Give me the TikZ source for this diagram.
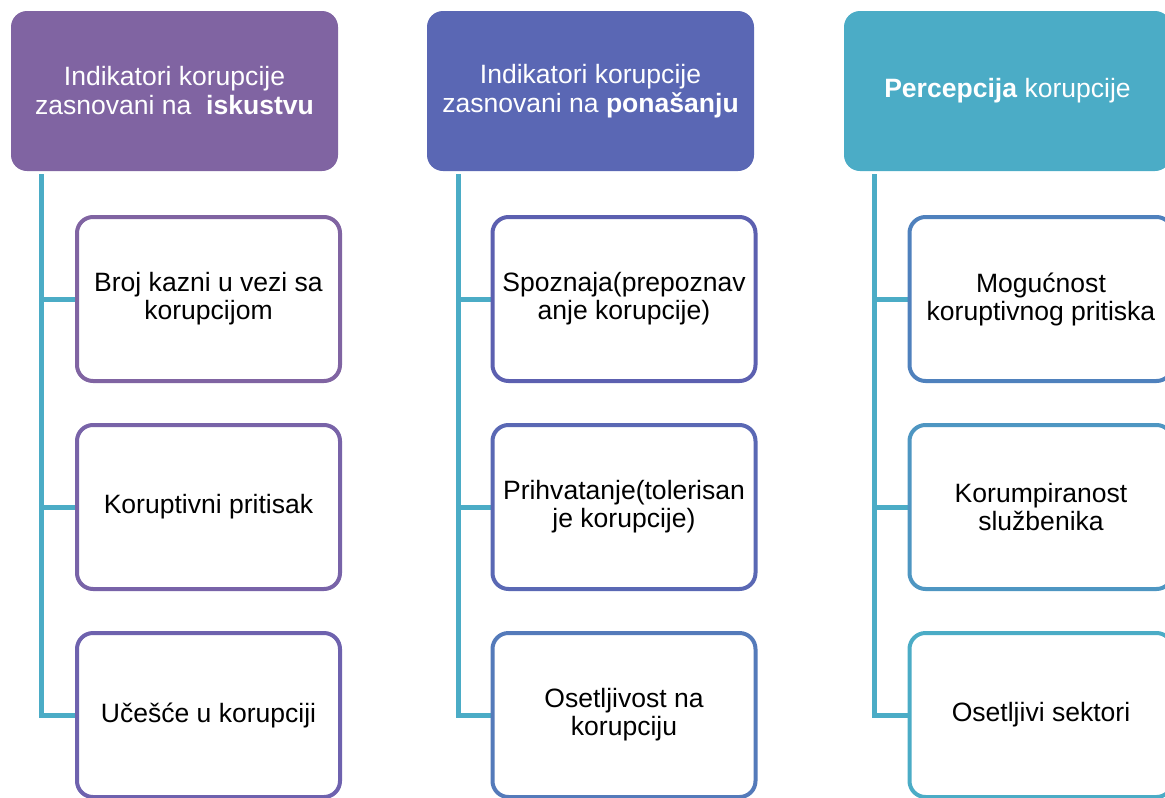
\documentclass[tikz,border=0pt]{standalone}
\usepackage{fontspec}
\setmainfont{Liberation Sans}
\usetikzlibrary{backgrounds}
\definecolor{hdrone}{HTML}{8064A2}
\definecolor{hdrtwo}{HTML}{5A67B4}
\definecolor{hdrthree}{HTML}{4BACC6}
\definecolor{boxoa}{HTML}{8064A2}
\definecolor{boxob}{HTML}{7863A8}
\definecolor{boxoc}{HTML}{6E62AE}
\definecolor{boxta}{HTML}{5C60B0}
\definecolor{boxtb}{HTML}{5A68B4}
\definecolor{boxtc}{HTML}{547ABA}
\definecolor{boxha}{HTML}{4F81BD}
\definecolor{boxhb}{HTML}{4E96C2}
\definecolor{boxhc}{HTML}{4BACC6}
\definecolor{linkcol}{HTML}{4BACC6}
\tikzset{
  header/.style={fill=#1, rounded corners=12pt, minimum width=245.25pt,
    minimum height=120pt, text=white, align=center,
    font=\fontsize{19.9pt}{21.75pt}\selectfont},
  item/.style={draw=#1, line width=3pt, rounded corners=12pt, fill=white,
    minimum width=197.25pt, minimum height=123pt, align=center,
    font=\fontsize{19.9pt}{21pt}\selectfont},
  link/.style={draw=linkcol, line width=3.75pt}
}
\begin{document}
\begin{tikzpicture}[x=0.75pt,y=-0.75pt]
  \useasboundingbox (0,0) rectangle (1165,797);
  \clip (0,0) rectangle (1165,797);
  % headers
  \node[header=hdrone] (h1) at (174.5,91) {Indikatori korupcije\\zasnovani na\ \ \textbf{iskustvu}};
  \node[header=hdrtwo] (h2) at (590.5,91) {Indikatori korupcije\\zasnovani na \textbf{ponašanju}};
  \node[header=hdrthree] (h3) at (1007.5,91) {\textbf{Percepcija} korupcije};
  % first column
  \node[item=boxoa] (k11) at (208.5,299) {Broj kazni u vezi sa\\korupcijom};
  \node[item=boxob] (k12) at (208.5,507) {Koruptivni pritisak};
  \node[item=boxoc] (k13) at (208.5,715) {Učešće u korupciji};
  % second column
  \node[item=boxta] (k21) at (624,299) {Spoznaja(prepoznav\\anje korupcije)};
  \node[item=boxtb] (k22) at (624,507) {Prihvatanje(tolerisan\\je korupcije)};
  \node[item=boxtc] (k23) at (624,715) {Osetljivost na\\korupciju};
  % third column
  \node[item=boxha] (k31) at (1041,299) {Mogućnost\\koruptivnog pritiska};
  \node[item=boxhb] (k32) at (1041,507) {Korumpiranost\\službenika};
  \node[item=boxhc] (k33) at (1041,715) {Osetljivi sektori};
  % connectors
  \coordinate (s1) at ([xshift=23.25pt,yshift=-2.25pt]h1.south west);
  \coordinate (s2) at ([xshift=24pt,yshift=-2.25pt]h2.south west);
  \coordinate (s3) at ([xshift=23.25pt,yshift=-2.25pt]h3.south west);
  \begin{scope}[on background layer]
    \draw[link] (s1) |- (k13.west);
    \draw[link] (k11.west -| s1) -- (k11.west);
    \draw[link] (k12.west -| s1) -- (k12.west);
    \draw[link] (s2) |- (k23.west);
    \draw[link] (k21.west -| s2) -- (k21.west);
    \draw[link] (k22.west -| s2) -- (k22.west);
    \draw[link] (s3) |- (k33.west);
    \draw[link] (k31.west -| s3) -- (k31.west);
    \draw[link] (k32.west -| s3) -- (k32.west);
  \end{scope}
\end{tikzpicture}
\end{document}
